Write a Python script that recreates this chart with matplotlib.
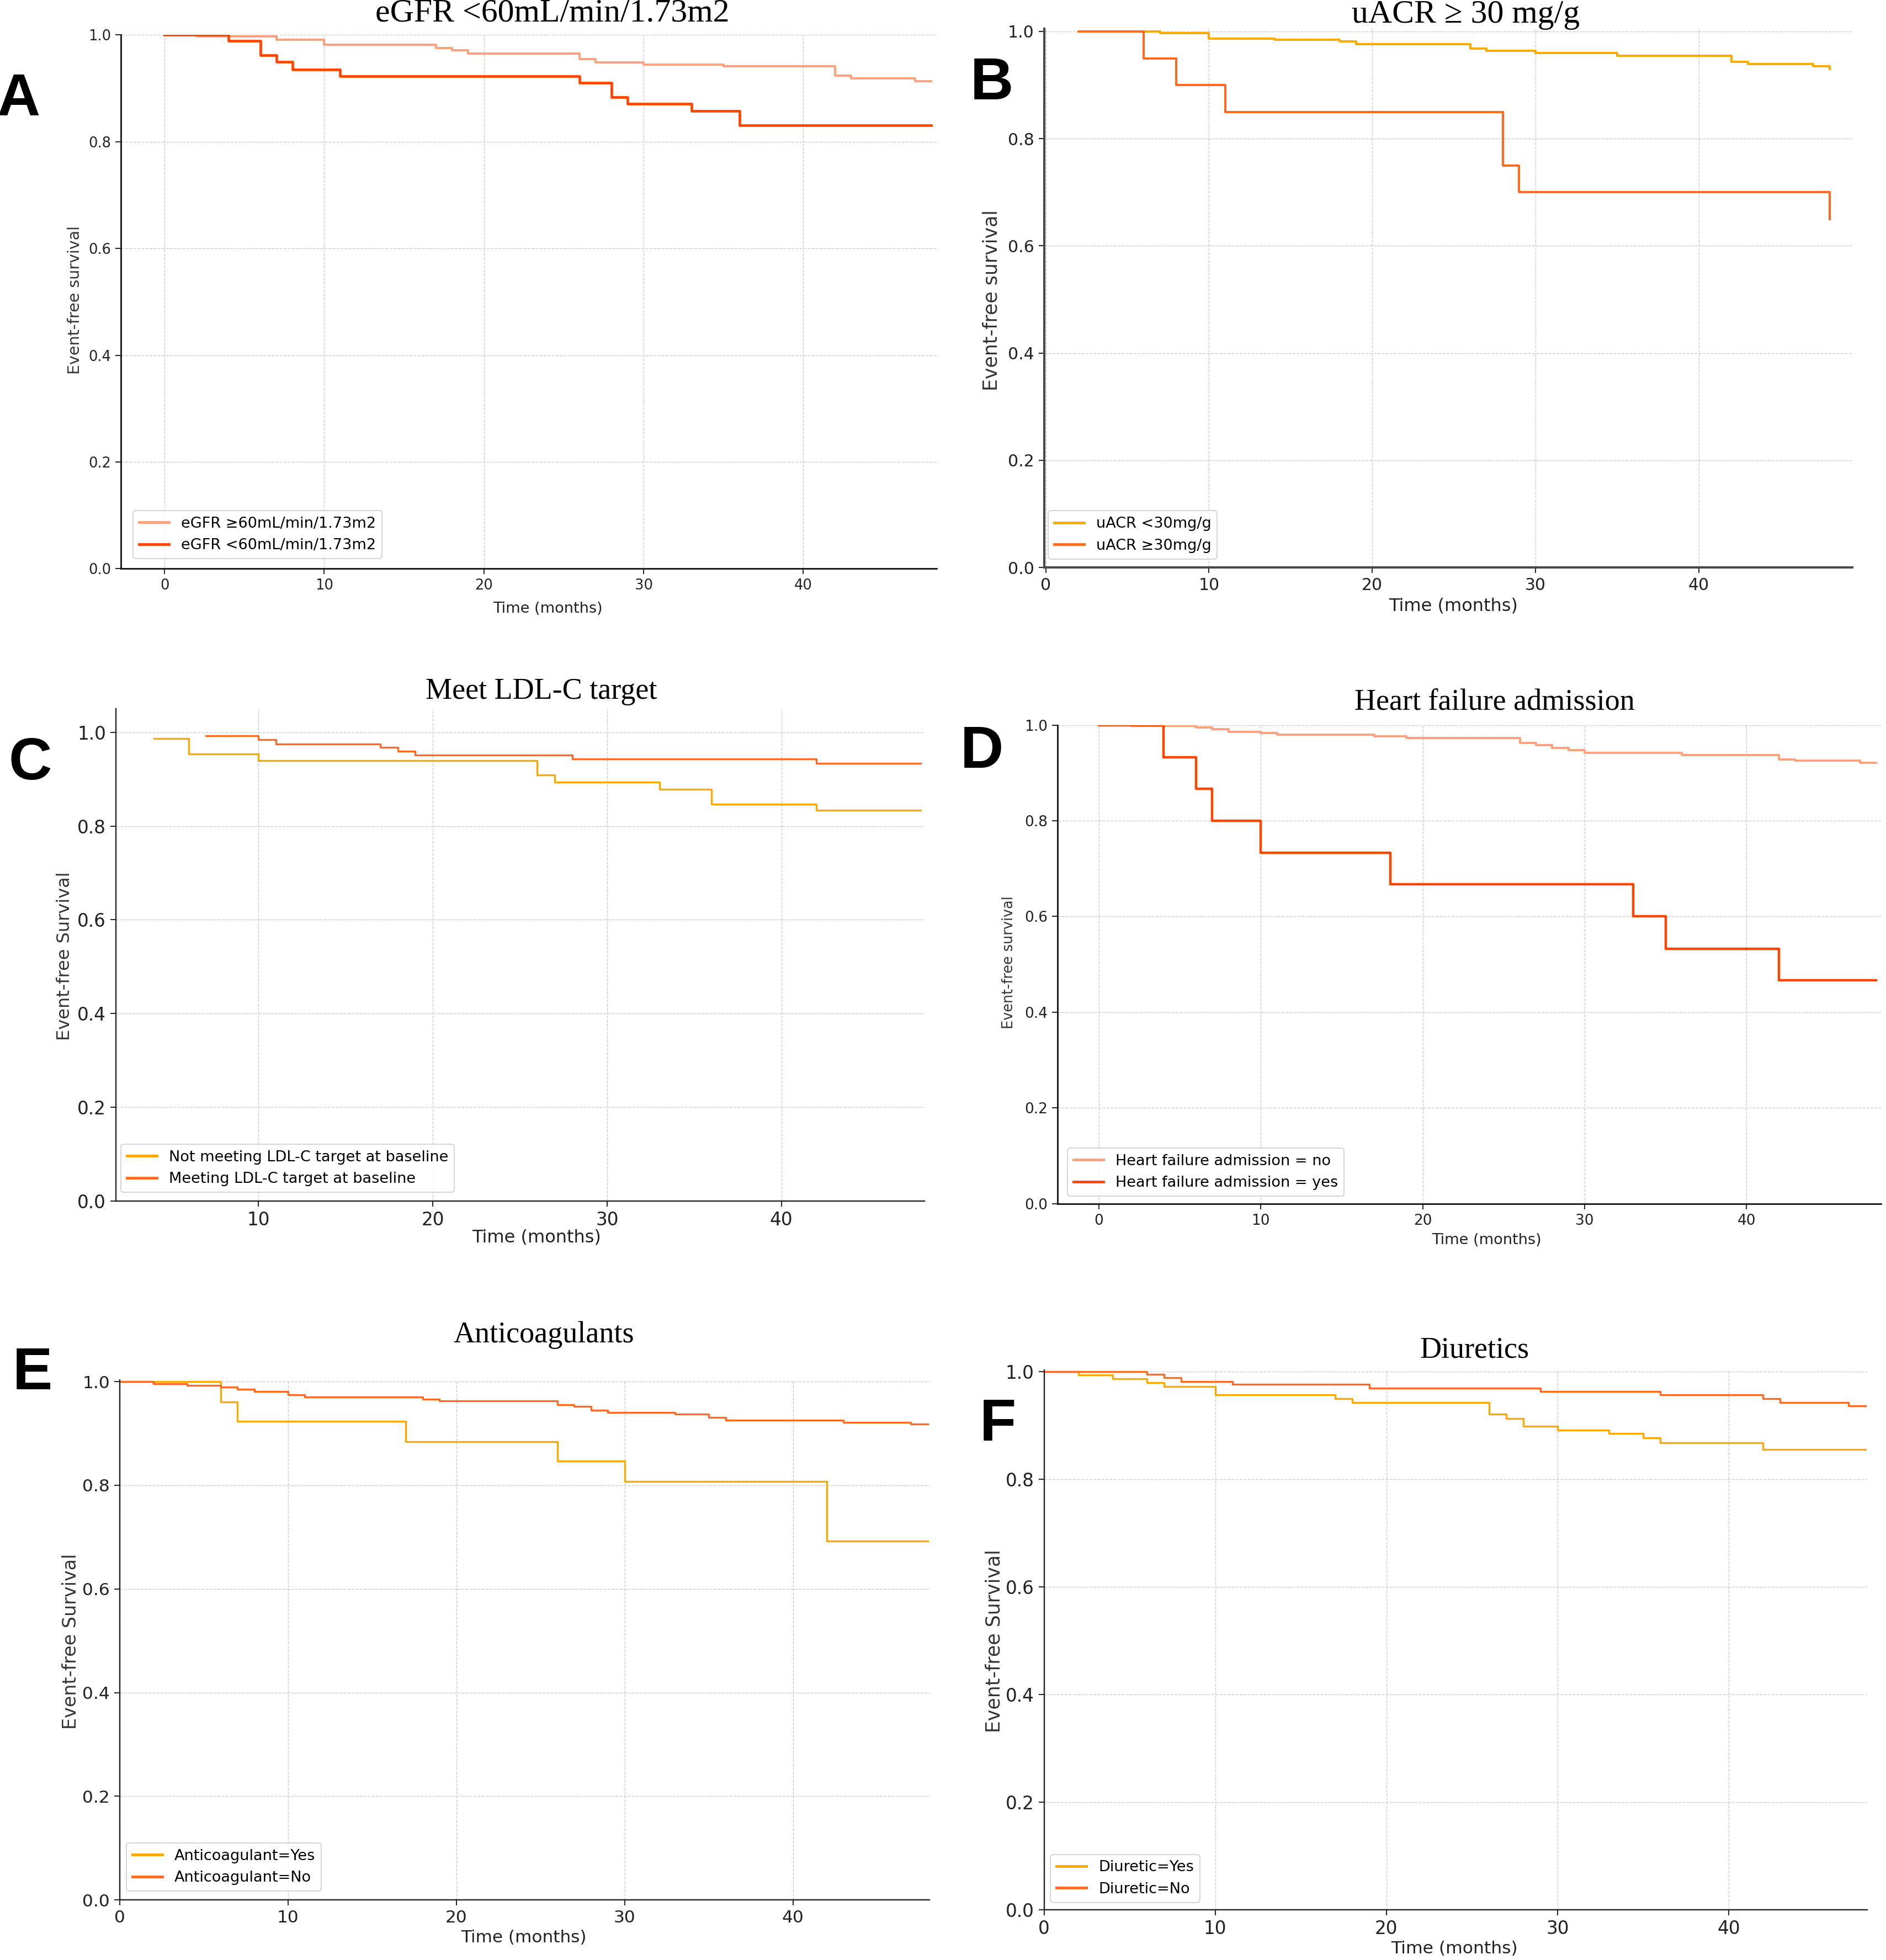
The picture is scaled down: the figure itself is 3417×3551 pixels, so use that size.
import matplotlib
matplotlib.use("Agg")
import matplotlib.pyplot as plt

# ---------------- data ----------------
# Panel A: eGFR
a_hi_t = [0, 2, 7, 10, 17, 18, 19, 26, 27, 30, 35, 42, 43, 47, 48]
a_hi_s = [1.0, 0.997, 0.991, 0.982, 0.976, 0.971, 0.965, 0.955, 0.949, 0.945, 0.941, 0.924, 0.919, 0.914, 0.914]
a_lo_t = [0, 4, 6, 7, 8, 11, 26, 28, 29, 33, 36, 48]
a_lo_s = [1.0, 0.989, 0.962, 0.950, 0.935, 0.923, 0.910, 0.884, 0.871, 0.858, 0.831, 0.831]
a_labels = ["eGFR \u226560mL/min/1.73m2", "eGFR <60mL/min/1.73m2"]

# Panel B: uACR
b_lo_t = [2, 7, 10, 14, 18, 19, 26, 27, 30, 35, 42, 43, 47, 48]
b_lo_s = [1.0, 0.997, 0.987, 0.984, 0.981, 0.976, 0.968, 0.964, 0.960, 0.955, 0.943, 0.939, 0.935, 0.930]
b_hi_t = [2, 6, 8, 11, 28, 29, 48]
b_hi_s = [1.0, 0.95, 0.90, 0.85, 0.75, 0.70, 0.65]
b_labels = ["uACR <30mg/g", "uACR \u226530mg/g"]

# Panel C: LDL-C target
c_not_t = [4, 6, 10, 26, 27, 33, 36, 42, 48]
c_not_s = [0.986, 0.954, 0.940, 0.909, 0.894, 0.878, 0.847, 0.834, 0.834]
c_met_t = [7, 10, 11, 17, 18, 19, 28, 42, 48]
c_met_s = [0.992, 0.984, 0.975, 0.968, 0.960, 0.951, 0.943, 0.934, 0.934]
c_labels = ["Not meeting LDL-C target at baseline", "Meeting LDL-C target at baseline"]

# Panel D: heart failure admission
d_no_t = [0, 2, 6, 7, 8, 10, 11, 17, 19, 26, 27, 28, 29, 30, 36, 42, 43, 47, 48]
d_no_s = [1.0, 0.998, 0.995, 0.991, 0.986, 0.983, 0.980, 0.976, 0.973, 0.962, 0.958, 0.952, 0.947, 0.942, 0.937, 0.928, 0.926, 0.921, 0.921]
d_yes_t = [0, 4, 6, 7, 10, 18, 33, 35, 42, 48]
d_yes_s = [1.0, 0.933, 0.867, 0.800, 0.733, 0.667, 0.600, 0.533, 0.467, 0.467]
d_labels = ["Heart failure admission = no", "Heart failure admission = yes"]

# Panel E: anticoagulants
e_yes_t = [0, 6, 7, 17, 26, 30, 42, 48]
e_yes_s = [1.0, 0.961, 0.923, 0.884, 0.847, 0.807, 0.692, 0.692]
e_no_t = [0, 2, 4, 6, 7, 8, 10, 11, 18, 19, 26, 27, 28, 29, 33, 35, 36, 43, 47, 48]
e_no_s = [1.0, 0.996, 0.993, 0.989, 0.985, 0.981, 0.974, 0.970, 0.966, 0.963, 0.955, 0.952, 0.945, 0.940, 0.937, 0.931, 0.925, 0.921, 0.918, 0.918]
e_labels = ["Anticoagulant=Yes", "Anticoagulant=No"]

# Panel F: diuretics
f_yes_t = [0, 2, 4, 6, 7, 10, 17, 18, 26, 27, 28, 30, 33, 35, 36, 42, 48]
f_yes_s = [1.0, 0.994, 0.987, 0.980, 0.972, 0.957, 0.950, 0.943, 0.921, 0.913, 0.899, 0.891, 0.885, 0.877, 0.868, 0.855, 0.855]
f_no_t = [0, 6, 7, 8, 11, 19, 29, 36, 42, 43, 47, 48]
f_no_s = [1.0, 0.995, 0.989, 0.982, 0.976, 0.969, 0.963, 0.957, 0.950, 0.943, 0.936, 0.936]
f_labels = ["Diuretic=Yes", "Diuretic=No"]

titles = ["eGFR <60mL/min/1.73m2", "uACR \u2265 30 mg/g", "Meet LDL-C target",
          "Heart failure admission", "Anticoagulants", "Diuretics"]
letters = ["A", "B", "C", "D", "E", "F"]
ylabels = ["Event-free survival", "Event-free survival", "Event-free Survival",
           "Event-free survival", "Event-free Survival", "Event-free Survival"]
xlabel = "Time (months)"
yticks = [0.0, 0.2, 0.4, 0.6, 0.8, 1.0]

# ---------------- layout (reference measured on a 1512 x 1568 grid) ----------------
W, H = 1512.0, 1568.0
def fx(x): return x / W
def fy(y): return 1 - y / H

fig = plt.figure(figsize=(34.17, 35.51), dpi=100)
plt.rcParams['font.family'] = ['DejaVu Sans']

panels = [
    dict(box=(97, 751, 28, 455), xlim=(-2.73, 48.36), ylim=(0, 1.0), xt=[0, 10, 20, 30, 40],
         tick=18.5, ylab=(60, 240, 20.5), xlab=(439, 487, 19.5), title=(443, 11, 43), letter=(15, 80),
         leg=(0.015, 0.019), spine='#111111', sw=2.0),
    dict(box=(837, 1485, 23, 454), xlim=(-0.1, 49.4), ylim=(0, 1.005), xt=[0, 10, 20, 30, 40],
         tick=21.5, ylab=(795, 240, 25), xlab=(1165, 485, 23), title=(1175, 12, 43), letter=(795, 67),
         leg=(0.005, 0.016), spine='#4a4a4a', sw=3.0),
    dict(box=(93, 741, 567, 961), xlim=(1.83, 48.2), ylim=(0, 1.05), xt=[10, 20, 30, 40],
         tick=23.5, ylab=(52, 765, 23), xlab=(430, 990, 23), title=(434, 553, 39), letter=(24, 611),
         leg=(0.006, 0.018), spine='#222222', sw=1.7),
    dict(box=(848, 1508, 580, 963), xlim=(-2.54, 48.3), ylim=(0, 1.0), xt=[0, 10, 20, 30, 40],
         tick=19, ylab=(809, 770, 18.4), xlab=(1192, 992, 19.5), title=(1198, 562, 39), letter=(787, 602),
         leg=(0.012, 0.016), spine='#111111', sw=2.0),
    dict(box=(96, 745, 1104, 1520), xlim=(0, 48.1), ylim=(0, 1.003), xt=[0, 10, 20, 30, 40],
         tick=22.5, ylab=(57, 1313, 24), xlab=(420, 1550, 22.4), title=(436, 1068, 39), letter=(26, 1099),
         leg=(0.008, 0.017), spine='#222222', sw=1.7),
    dict(box=(837, 1497, 1096, 1528), xlim=(0, 48.1), ylim=(0, 1.003), xt=[0, 10, 20, 30, 40],
         tick=23.5, ylab=(797, 1313, 25), xlab=(1166, 1559, 22.6), title=(1182, 1080, 39), letter=(800, 1140),
         leg=(0.008, 0.014), spine='#222222', sw=1.7),
]

series = [
    [(a_hi_t, a_hi_s, '#FFA07A', 2.8), (a_lo_t, a_lo_s, '#FF4500', 3.4)],
    [(b_lo_t, b_lo_s, '#FFAA00', 2.9), (b_hi_t, b_hi_s, '#FF6A1F', 2.9)],
    [(c_not_t, c_not_s, '#FFA800', 2.4), (c_met_t, c_met_s, '#FF6A22', 2.4)],
    [(d_no_t, d_no_s, '#FFA07A', 2.8), (d_yes_t, d_yes_s, '#FF4500', 3.2)],
    [(e_yes_t, e_yes_s, '#FFA800', 2.4), (e_no_t, e_no_s, '#FF6A22', 2.4)],
    [(f_yes_t, f_yes_s, '#FFA800', 2.4), (f_no_t, f_no_s, '#FF6A22', 2.4)],
]
legend_labels = [a_labels, b_labels, c_labels, d_labels, e_labels, f_labels]

for i, p in enumerate(panels):
    l, r, t, b = p['box']
    ax = fig.add_axes([fx(l), fy(b), (r - l) / W, (b - t) / H])
    for (tt, ss, col, lw), lab in zip(series[i], legend_labels[i]):
        ax.step(tt, ss, where='post', color=col, lw=lw, label=lab)
    ax.set_xlim(*p['xlim'])
    ax.set_ylim(*p['ylim'])
    ax.set_xticks(p['xt'])
    ax.set_yticks(yticks)
    ax.set_yticklabels([f"{v:.1f}" for v in yticks])
    ax.grid(True, linestyle='--', color='#cccccc', linewidth=1.0)
    ax.set_axisbelow(True)
    for s in ['top', 'right']:
        ax.spines[s].set_visible(False)
    for s in ['left', 'bottom']:
        ax.spines[s].set_linewidth(p['sw'])
        ax.spines[s].set_color(p['spine'])
    ax.tick_params(labelsize=p['tick'], length=7, width=1.4, colors='#222222', pad=6)
    leg = ax.legend(loc='lower left', bbox_to_anchor=p['leg'], borderaxespad=0,
                    fontsize=19.5, frameon=True, handlelength=2.0)
    leg.get_frame().set_edgecolor('#cccccc')
    leg.get_frame().set_linewidth(1.5)
    for line in leg.get_lines():
        line.set_linewidth(3.5)

    x, y, s = p['title']
    fig.text(fx(x), fy(y), titles[i], family='Liberation Serif', fontsize=s,
             ha='center', va='center')
    x, y, s = p['ylab']
    fig.text(fx(x), fy(y), ylabels[i], fontsize=s, rotation=90, ha='center', va='center',
             color='#333333')
    x, y, s = p['xlab']
    fig.text(fx(x), fy(y), xlabel, fontsize=s, ha='center', va='center', color='#222222')
    x, y = p['letter']
    fig.text(fx(x), fy(y), letters[i], family='Liberation Sans', fontweight='bold',
             fontsize=78, ha='center', va='center')

fig.savefig("out.png", dpi=100)
